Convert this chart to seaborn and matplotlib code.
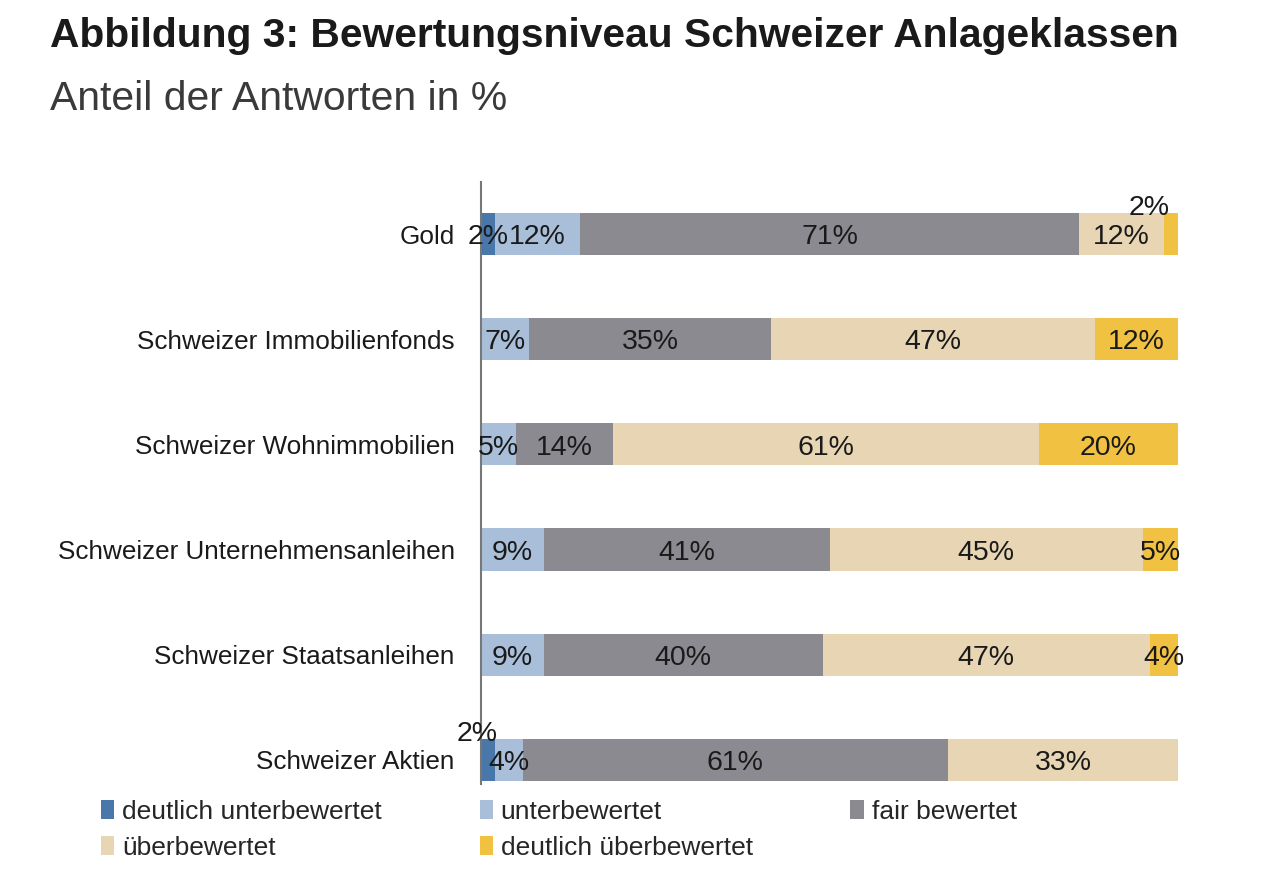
import numpy as np
import pandas as pd
import matplotlib
matplotlib.use("Agg")
import matplotlib.pyplot as plt
import seaborn as sns
from matplotlib.patches import Patch

# Data
categories = [
    "Gold",
    "Schweizer Immobilienfonds",
    "Schweizer Wohnimmobilien",
    "Schweizer Unternehmensanleihen",
    "Schweizer Staatsanleihen",
    "Schweizer Aktien",
]
series = [
    "deutlich unterbewertet",
    "unterbewertet",
    "fair bewertet",
    "überbewertet",
    "deutlich überbewertet",
]
deutlich_unter = [2, 0, 0, 0, 0, 2]
unter = [12, 7, 5, 9, 9, 4]
fair = [71, 35, 14, 41, 40, 61]
ueber = [12, 47, 61, 45, 47, 33]
deutlich_ueber = [2, 12, 20, 5, 4, 0]

colors = ["#4a77aa", "#a9bfd9", "#8b8a90", "#e7d5b4", "#f1c141"]

# labels that sit above the bar: (row, segment) -> nudge along x
raised = {(0, 4): -1.2, (5, 0): 0.4}

values = np.array([deutlich_unter, unter, fair, ueber, deutlich_ueber], dtype=float)
shares = values / values.sum(axis=0) * 100
cum = np.cumsum(shares, axis=0)

sns.set_theme(style="white")
plt.rcParams["font.family"] = ["Liberation Sans", "DejaVu Sans"]

fig = plt.figure(figsize=(12.8, 8.77), dpi=100)
ax = fig.add_axes([0.3758, 0.106, 0.5445, 0.6865])

df = pd.DataFrame({"Kategorie": categories})
# draw cumulative bars from the longest to the shortest so they stack
for i in range(len(series) - 1, -1, -1):
    df["wert"] = cum[i]
    sns.barplot(data=df, x="wert", y="Kategorie", orient="h", color=colors[i],
                width=0.4, saturation=1, ax=ax, linewidth=0)

for r in range(len(categories)):
    for i in range(len(series)):
        v = values[i, r]
        if v <= 0:
            continue
        start = cum[i, r] - shares[i, r]
        xc = start + shares[i, r] / 2
        txt = f"{int(v)}%"
        if (r, i) in raised:
            ax.text(cum[i, r] + raised[(r, i)], r - 0.25, txt, ha="right",
                    va="center", fontsize=20.5, color="#1a1a1a")
        else:
            ax.text(xc, r + 0.03, txt, ha="center", va="center",
                    fontsize=20.5, color="#1a1a1a")

ax.set_xlim(0, 100)
ax.set_ylim(5.23, -0.495)
ax.set_xlabel("")
ax.set_ylabel("")
ax.set_xticks([])
ax.tick_params(axis="y", length=0, pad=19, labelsize=18.8, labelcolor="#1a1a1a")
for s in ["top", "right", "bottom"]:
    ax.spines[s].set_visible(False)
ax.spines["left"].set_color("#777777")
ax.spines["left"].set_linewidth(1.5)

fig.text(0.039, 0.959, "Abbildung 3: Bewertungsniveau Schweizer Anlageklassen",
         fontsize=29.3, fontweight="bold", color="#1a1a1a", va="center")
fig.text(0.039, 0.887, "Anteil der Antworten in %", fontsize=29.4,
         color="#3a3a3a", va="center")

order = [0, 3, 1, 4, 2]
handles = [Patch(facecolor=colors[i], edgecolor="none") for i in order]
labels = [series[i] for i in order]
fig.legend(handles, labels, ncol=3, loc="upper left", bbox_to_anchor=(0.079, 0.088),
           frameon=False, fontsize=19, handlelength=0.5, handleheight=0.7,
           handletextpad=0.3, columnspacing=3.7, labelspacing=0.45,
           borderaxespad=0, borderpad=0)

fig.savefig("out.png", dpi=100)
